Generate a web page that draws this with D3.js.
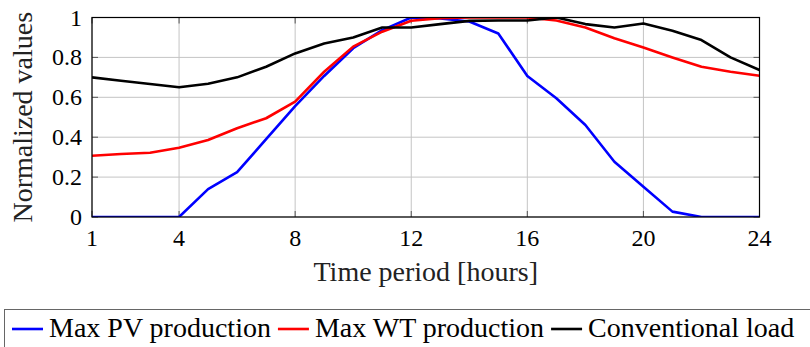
<!DOCTYPE html>
<html>
<head>
<meta charset="utf-8">
<script src="https://cdn.jsdelivr.net/npm/d3@7"></script>
<style>
  html, body { margin: 0; padding: 0; background: #fff; }
  text { font-family: "Liberation Serif", "Times New Roman", Times, "DejaVu Serif", "Noto Serif", serif; }
</style>
</head>
<body>
<svg id="chart" width="810" height="347"></svg>
<script>
// Data.
const hours = [1, 2, 3, 4, 5, 6, 7, 8, 9, 10, 11, 12, 13, 14, 15, 16, 17, 18, 19, 20, 21, 22, 23, 24];
const pvProduction = [0, 0, 0, 0, 0.14, 0.225, 0.39, 0.556, 0.707, 0.846, 0.937, 1.0, 0.995, 0.98, 0.92, 0.707, 0.595, 0.461, 0.277, 0.152, 0.027, 0, 0, 0];
const wtProduction = [0.307, 0.316, 0.322, 0.347, 0.386, 0.445, 0.495, 0.578, 0.728, 0.854, 0.929, 0.984, 0.997, 1.0, 1.0, 1.0, 0.985, 0.95, 0.896, 0.85, 0.8, 0.753, 0.728, 0.708];
const conventionalLoad = [0.7, 0.683, 0.667, 0.65, 0.668, 0.7, 0.753, 0.82, 0.87, 0.9, 0.95, 0.95, 0.967, 0.983, 0.985, 0.985, 1.0, 0.967, 0.95, 0.97, 0.934, 0.887, 0.8, 0.737];
const seriesNames = ["Max PV production", "Max WT production", "Conventional load"];
const seriesColors = ["#0000ff", "#ff0000", "#000000"];
const xTicks = [1, 4, 8, 12, 16, 20, 24];
const yTicks = [0, 0.2, 0.4, 0.6, 0.8, 1];

const FONT = '"Liberation Serif", "Times New Roman", Times, "DejaVu Serif", serif';
const plot = { left: 92, right: 759.5, top: 17.5, bottom: 217 };

const svg = d3.select("#chart");

const x = d3.scaleLinear().domain([1, 24]).range([plot.left, plot.right]);
const y = d3.scaleLinear().domain([0, 1]).range([plot.bottom, plot.top]);

// Grid.
const grid = svg.append("g").attr("class", "grid");
grid
  .selectAll("line.gx")
  .data(xTicks)
  .join("line")
  .attr("x1", (d) => x(d))
  .attr("x2", (d) => x(d))
  .attr("y1", plot.top)
  .attr("y2", plot.bottom)
  .attr("stroke", "#c4c4c4")
  .attr("stroke-width", 1);
grid
  .selectAll("line.gy")
  .data(yTicks)
  .join("line")
  .attr("x1", plot.left)
  .attr("x2", plot.right)
  .attr("y1", (d) => y(d))
  .attr("y2", (d) => y(d))
  .attr("stroke", "#c4c4c4")
  .attr("stroke-width", 1);

// Inward tick marks.
const tickLen = 6;
const ticks = svg.append("g").attr("stroke", "#555").attr("stroke-width", 1);
yTicks.forEach((t) => {
  ticks.append("line").attr("x1", plot.left).attr("x2", plot.left + tickLen).attr("y1", y(t)).attr("y2", y(t));
  ticks.append("line").attr("x1", plot.right).attr("x2", plot.right - tickLen).attr("y1", y(t)).attr("y2", y(t));
});
xTicks.forEach((t) => {
  ticks.append("line").attr("x1", x(t)).attr("x2", x(t)).attr("y1", plot.bottom).attr("y2", plot.bottom - tickLen);
  ticks.append("line").attr("x1", x(t)).attr("x2", x(t)).attr("y1", plot.top).attr("y2", plot.top + tickLen);
});

// Lines.
svg
  .append("defs")
  .append("clipPath")
  .attr("id", "plot-clip")
  .append("rect")
  .attr("x", plot.left)
  .attr("y", plot.top)
  .attr("width", plot.right - plot.left)
  .attr("height", plot.bottom - plot.top);

const allSeries = [pvProduction, wtProduction, conventionalLoad];
const line = d3
  .line()
  .x((d, i) => x(hours[i]))
  .y((d) => y(d));

svg
  .append("g")
  .attr("clip-path", "url(#plot-clip)")
  .selectAll("path")
  .data(allSeries)
  .join("path")
  .attr("fill", "none")
  .attr("stroke", (d, i) => seriesColors[i])
  .attr("stroke-width", 2.6)
  .attr("stroke-linejoin", "round")
  .attr("d", line);

// Frame.
svg
  .append("rect")
  .attr("x", plot.left)
  .attr("y", plot.top)
  .attr("width", plot.right - plot.left)
  .attr("height", plot.bottom - plot.top)
  .attr("fill", "none")
  .attr("stroke", "#000")
  .attr("stroke-width", 1.2);

// Tick labels.
const tickFont = 24;
svg
  .append("g")
  .selectAll("text")
  .data(xTicks)
  .join("text")
  .attr("x", (d) => x(d))
  .attr("y", 246)
  .attr("text-anchor", "middle")
  .attr("font-family", FONT)
  .style("font-size", tickFont + "px")
  .text((d) => d);

svg
  .append("g")
  .selectAll("text")
  .data(yTicks)
  .join("text")
  .attr("x", 82)
  .attr("y", (d) => y(d) + 8)
  .attr("text-anchor", "end")
  .attr("font-family", FONT)
  .style("font-size", tickFont + "px")
  .text((d) => (d === 0 || d === 1 ? d : d.toFixed(1)));

// Axis titles.
svg
  .append("text")
  .attr("x", (plot.left + plot.right) / 2)
  .attr("y", 281)
  .attr("text-anchor", "middle")
  .attr("font-family", FONT)
  .style("font-size", "28px")
  .attr("fill", "#222")
  .text("Time period [hours]");

svg
  .append("text")
  .attr("transform", `translate(32, ${(plot.top + plot.bottom) / 2}) rotate(-90)`)
  .attr("text-anchor", "middle")
  .attr("font-family", FONT)
  .style("font-size", "28px")
  .attr("fill", "#222")
  .text("Normalized values");

// Legend.
const legend = svg.append("g").attr("class", "legend");
legend
  .append("rect")
  .attr("x", 4.5)
  .attr("y", 309.5)
  .attr("width", 820)
  .attr("height", 60)
  .attr("fill", "#fff")
  .attr("stroke", "#666")
  .attr("stroke-width", 1);

let lx = 12;
seriesNames.forEach((name, i) => {
  legend
    .append("line")
    .attr("x1", lx)
    .attr("x2", lx + 31)
    .attr("y1", 329)
    .attr("y2", 329)
    .attr("stroke", seriesColors[i])
    .attr("stroke-width", 2.6);
  const t = legend
    .append("text")
    .attr("x", lx + 37)
    .attr("y", 337)
    .attr("font-family", FONT)
    .style("font-size", "28px")
    .text(name);
  lx = lx + 37 + t.node().getComputedTextLength() + 7;
});
</script>
</body>
</html>
